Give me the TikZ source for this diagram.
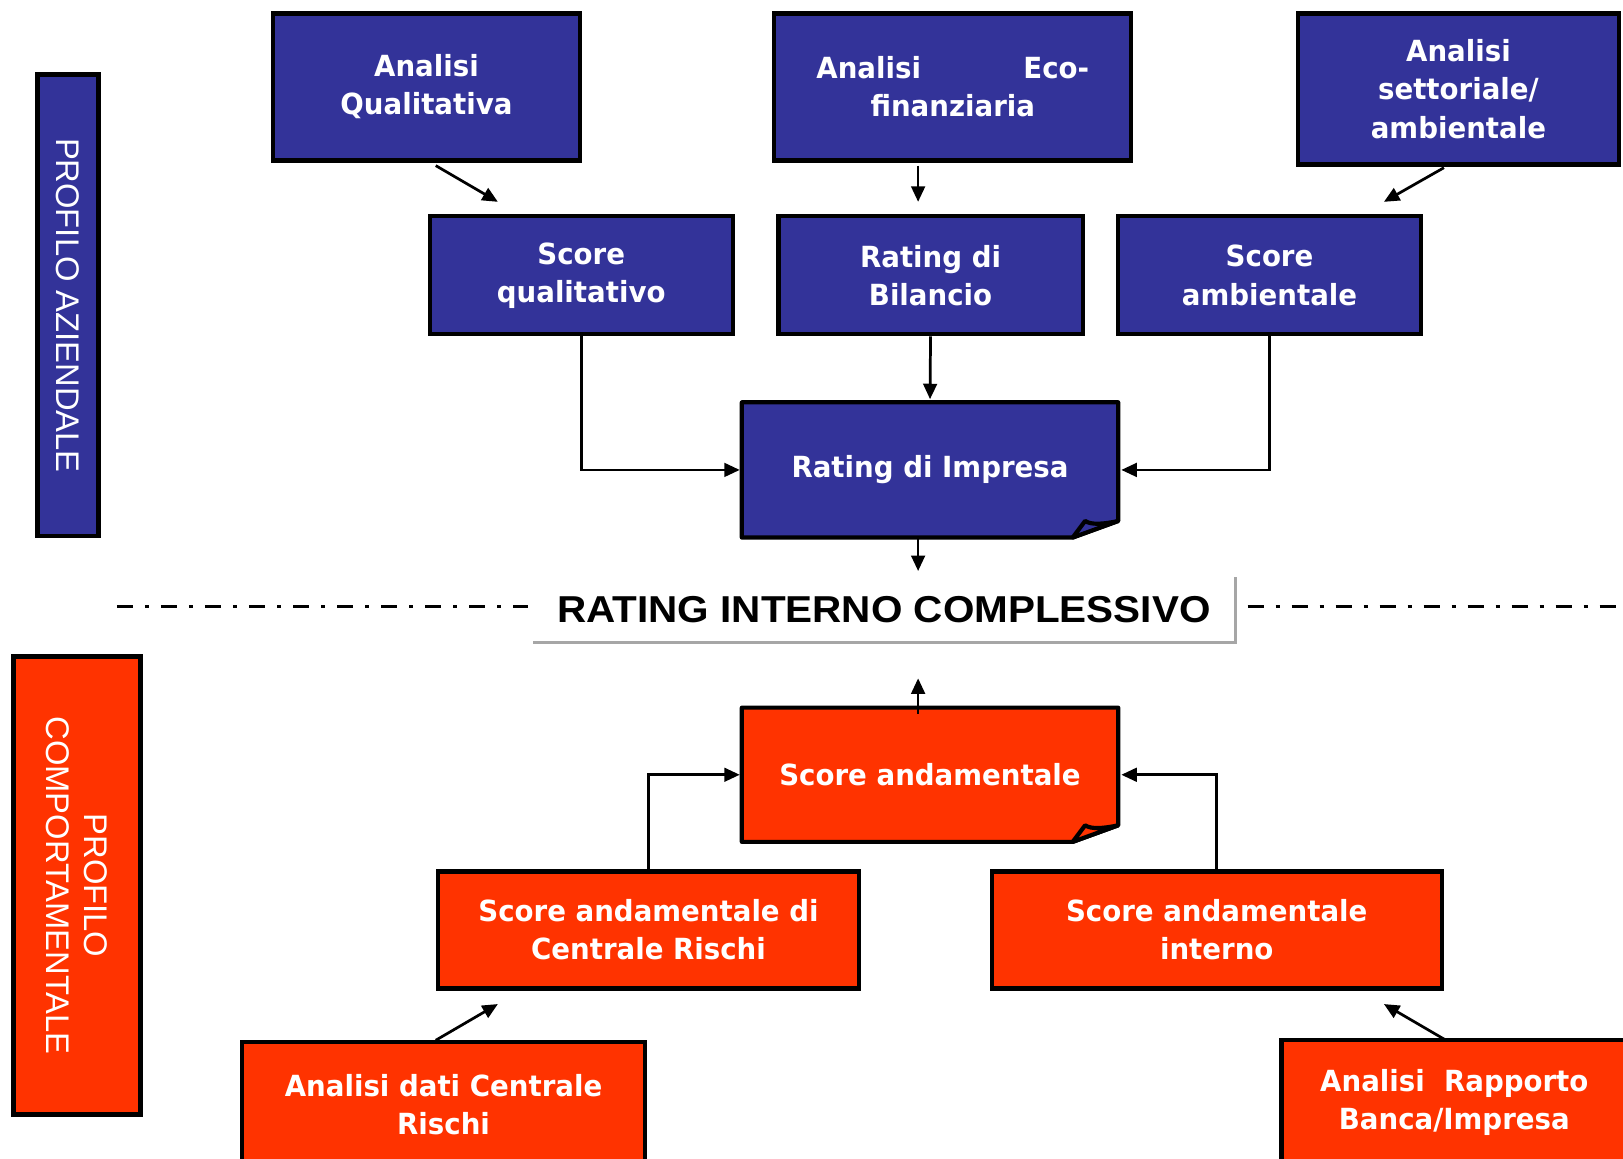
\documentclass[tikz,border=0pt]{standalone}
\usepackage{fontspec}
\setmainfont{DejaVu Sans}[FakeStretch=0.95]
\newfontfamily\sidefont{Liberation Sans}
\newfontfamily\ratingfont[FakeStretch=1.08]{Liberation Sans}
\usetikzlibrary{calc,arrows.meta,backgrounds}

\definecolor{aziendablu}{RGB}{51,51,153}
\definecolor{comportrosso}{RGB}{255,51,0}

\tikzset{
  boxtext/.style={text=white, font=\fontsize{16}{21}\selectfont\bfseries, align=center, inner sep=0pt},
  box/.style={boxtext, draw=black, line width=2.3pt},
  blubox/.style={box, fill=aziendablu},
  redbox/.style={box, fill=comportrosso},
  sidebar/.style={draw=black, line width=2.6pt, text=white, font=\sidefont\fontsize{18}{21}\selectfont, align=center, inner sep=0pt, rotate=-90},
  freccia/.style={-{Triangle[length=8.5pt,width=7.5pt]}, line width=1.5pt},
  tratteggio/.style={line width=2pt, dash pattern=on 8.8pt off 6.6pt on 2.2pt off 6.6pt},
  piega/.style={line width=2.3pt, line join=round},
}

\begin{document}
\begin{tikzpicture}[x=0.02cm, y=-0.02cm]
\useasboundingbox (0,0) rectangle (1568,1119);
\clip (0,0) rectangle (1568,1119);

% profilo aziendale
\node[sidebar, fill=aziendablu, minimum width=8.92cm, minimum height=1.18cm] (pa) at (65.5,295) {PROFILO AZIENDALE};

\node[blubox, minimum width=5.92cm, minimum height=2.84cm] (aq) at (412,84) {Analisi\\Qualitativa};
\node[blubox, minimum width=6.9cm, minimum height=2.84cm] (ae) at (920.5,84) {\makebox[150pt]{Analisi\hfill Eco-}\\finanziaria};
\node[blubox, minimum width=6.2cm, minimum height=2.92cm] (as) at (1409,86) {Analisi\\settoriale/\\ambientale};

\node[blubox, minimum width=5.86cm, minimum height=2.28cm] (sq) at (561.5,266) {Score\\qualitativo};
\node[blubox, minimum width=5.88cm, minimum height=2.28cm] (rb) at (899,266) {Rating di\\Bilancio};
\node[blubox, minimum width=5.86cm, minimum height=2.28cm] (sa) at (1226.5,266) {Score\\ambientale};

\node[boxtext, minimum width=7.26cm, minimum height=2.6cm] (ri) at (898.5,454) {Rating di Impresa};
\begin{scope}[on background layer]
\filldraw[piega, fill=aziendablu] (ri.north west) -- (ri.north east) -- ($(ri.south east)+(0,-16)$) -- ($(ri.south east)+(-44,0)$) -- (ri.south west) -- cycle;
\filldraw[piega, fill=aziendablu] ($(ri.south east)+(-44,0)$) -- ($(ri.south east)+(-32,-16)$) .. controls ($(ri.south east)+(-26,-12)$) and ($(ri.south east)+(-14,-13)$) .. ($(ri.south east)+(0,-16)$) -- cycle;
\end{scope}

\draw[freccia] ($(aq.south)+(9,3)$) -- ($(sq.north)+(-80.5,-12)$);
\draw[freccia] ($(ae.south)+(-33.5,3)$) -- ($(rb.north)+(-12,-12)$);
\draw[freccia] ($(as.south)+(-14,1)$) -- ($(sa.north)+(110.5,-12)$);
\draw[freccia] (sq.south) |- ($(ri.west)+(-2,0)$);
\draw[freccia] (rb.south) -- ($(ri.north)+(0,-3)$);
\draw[freccia] (sa.south) |- ($(ri.east)+(3,0)$);

% rating interno complessivo
\coordinate (tl) at (113,586);
\coordinate (tr) at (1568,586);
\node[fill=white, minimum width=13.56cm, minimum height=1.24cm, inner sep=0pt, font=\ratingfont\bfseries\fontsize{20.6}{24}\selectfont] (ric) at (854,589) {RATING INTERNO COMPLESSIVO};
\draw[gray!70, line width=1.6pt] (ric.north east) -- (ric.south east) -- (ric.south west);
\draw[tratteggio] (tl) -- ($(tl -| ric.west)+(-5,0)$);
\draw[tratteggio] ($(tr -| ric.east)+(12,0)$) -- (tr);

\draw[freccia] ($(ri.south)+(-11.5,0)$) -- ($(ric.north)+(33,-6)$);

% profilo comportamentale
\node[sidebar, fill=comportrosso, minimum width=8.86cm, minimum height=2.46cm] (pc) at (74.5,855.5) {PROFILO\\COMPORTAMENTALE};

\node[boxtext, minimum width=7.26cm, minimum height=2.58cm] (san) at (898.5,748.5) {Score andamentale};
\begin{scope}[on background layer]
\filldraw[piega, fill=comportrosso] (san.north west) -- (san.north east) -- ($(san.south east)+(0,-16)$) -- ($(san.south east)+(-44,0)$) -- (san.south west) -- cycle;
\filldraw[piega, fill=comportrosso] ($(san.south east)+(-44,0)$) -- ($(san.south east)+(-32,-16)$) .. controls ($(san.south east)+(-26,-12)$) and ($(san.south east)+(-14,-13)$) .. ($(san.south east)+(0,-16)$) -- cycle;
\end{scope}

\node[redbox, minimum width=8.14cm, minimum height=2.26cm] (sacr) at (626.5,898.5) {Score andamentale di\\Centrale Rischi};
\node[redbox, minimum width=8.7cm, minimum height=2.26cm] (sai) at (1175.5,898.5) {Score andamentale\\interno};

\node[redbox, minimum width=7.78cm, minimum height=2.4cm] (adcr) at (428.5,1067) {Analisi dati Centrale\\Rischi};
\node[redbox, minimum width=6.68cm, minimum height=2.4cm] (arbi) at (1405,1065) {Analisi\ \ Rapporto\\Banca/Impresa};

\draw[freccia] ($(san.north)+(-11.5,6)$) -- ($(ric.south)+(33,35)$);
\draw[freccia] (sacr.north) |- ($(san.west)+(-2,0)$);
\draw[freccia] (sai.north) |- ($(san.east)+(3,0)$);
\draw[freccia] ($(adcr.north)+(-7.5,0)$) -- ($(sacr.south)+(-145.5,13)$);
\draw[freccia] ($(arbi.north)+(-8,2)$) -- ($(sai.south)+(161.5,13)$);
\end{tikzpicture}
\end{document}
